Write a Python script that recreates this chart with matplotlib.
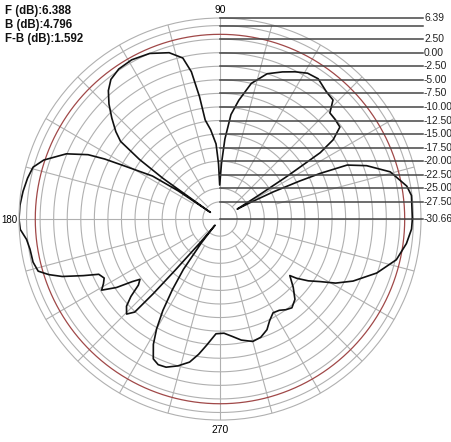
import numpy as np
import matplotlib
matplotlib.use('Agg')
import matplotlib.pyplot as plt

plt.rcParams['font.family'] = ['Liberation Sans', 'DejaVu Sans']

# radiation pattern: angle (deg) and gain (dB)
angles = [0, 7, 10, 15.5, 20, 23, 24.5, 25.5, 27, 28.5,
          30, 31.5, 32.5, 33.5, 35, 37.5, 41, 44, 46.5, 50,
          55, 59, 63, 67, 72, 77, 81, 84, 86.5, 88.5,
          90.5, 91.5, 93, 96, 98.5, 99.5, 101, 103, 107, 113,
          119, 124, 128, 131, 134, 137, 140, 142, 143.5, 144.5,
          145.3, 146, 147.5, 149.5, 151, 152.5, 154, 157, 161.5, 164.5,
          168, 172, 176, 180, 183, 186, 189, 193, 196, 198,
          200, 202.5, 204.5, 207, 209, 211, 213.5, 215.5, 217, 219,
          221, 223, 225.5, 227.5, 228.2, 228.8, 230, 231, 232, 234,
          236, 238, 240, 242, 244.5, 247, 250, 254, 258, 261,
          264, 268, 272, 276, 280, 285, 289, 293, 296, 299.5,
          303, 306, 309, 313, 317, 321, 322.3, 325, 328, 331,
          335, 341, 347, 352.5, 357, 360]
gain_db = [4.8, 4.9, 4.3, 1.9, -1.9, -5.2, -10.4, -14.4, -19.6, -24.2,
           -27.0, -22.4, -15.9, -8.5, -5.2, -2.8, -2.6, -2.5, -0.4, -0.1,
           0.9, 0.7, -0.2, -1.2, -2.5, -5.0, -8.5, -11.3, -15.9, -20.5,
           -24.4, -20.5, -16.8, -14.1, -12.2, -7.8, -3.0, -0.2, 1.4, 2.5,
           2.9, 2.7, 2.0, 0.7, -1.2, -3.4, -5.6, -7.4, -12.2, -17.8,
           -28.5, -21.4, -15.9, -13.2, -10.4, -6.7, -3.6, 0.1, 3.6, 5.1,
           5.6, 6.0, 6.3, 6.39, 6.2, 5.2, 4.8, 4.7, 4.2, 2.5,
           0.3, -3.4, -6.1, -6.7, -6.1, -5.2, -7.8, -10.8, -12.2, -11.3,
           -8.9, -7.1, -6.1, -7.4, -12.2, -18.1, -25.1, -29.2, -25.1, -19.2,
           -15.0, -10.8, -7.3, -4.5, -2.1, -1.5, -1.6, -2.5, -3.7, -5.4,
           -7.3, -9.5, -9.6, -8.9, -8.0, -7.3, -7.6, -8.5, -9.8, -10.8,
           -10.6, -10.0, -9.6, -10.4, -12.2, -14.1, -12.8, -10.8, -8.9, -6.3,
           -3.6, -0.1, 2.7, 4.0, 4.7, 4.8]

r_min, r_max = -30.66, 6.39
f_db, b_db, fb_db = 6.388, 4.796, 1.592

ring_levels = [-27.5, -25.0, -22.5, -20.0, -17.5, -15.0, -12.5, -10.0,
               -7.5, -5.0, -2.5, 0.0, 2.5, 5.0]
level_values = [6.39, 5.0, 2.5, 0.0, -2.5, -5.0, -7.5, -10.0, -12.5, -15.0,
                -17.5, -20.0, -22.5, -25.0, -27.5, -30.66]
level_labels = ['6.39', '', '2.50', '0.00', '-2.50', '-5.00', '-7.50', '-10.00',
                '-12.50', '-15.00', '-17.50', '-20.00', '-22.50', '-25.00',
                '-27.50', '-30.66']
angle_labels = ['90', '180', '270']

grid_c = '#b0b0b0'

fig = plt.figure(figsize=(4.52, 4.42), dpi=100)
fig.patch.set_facecolor('white')
rect = [0.042, 0.0497, 0.8894, 0.9095]

ax = fig.add_axes(rect, projection='polar')
ax.set_ylim(r_min, r_max)
ax.grid(False)
ax.set_xticks([])
ax.set_yticks([])
ax.spines['polar'].set_color(grid_c)
ax.spines['polar'].set_linewidth(0.8)

th = np.linspace(0, 2 * np.pi, 721)
for lv in ring_levels:
    ax.plot(th, np.full_like(th, lv), color=grid_c, lw=0.8)

# spokes, denser further out
for a in range(0, 360, 15):
    if a % 90 == 0:
        start = r_min
    elif a % 45 == 0:
        start = -27.5
    elif a % 30 == 0:
        start = -25.0
    else:
        start = -20.0
    ax.plot([np.radians(a)] * 2, [start, r_max], color=grid_c, lw=0.8)

# -3 dB circle
ax.plot(th, np.full_like(th, f_db - 3), color='#a04848', lw=0.9)

ax.plot(np.radians(angles), gain_db, color='#111111', lw=1.2)

# overlay for the level lines and labels
ax2 = fig.add_axes(rect)
ax2.set_xlim(-1, 1)
ax2.set_ylim(-1, 1)
ax2.axis('off')
ax2.patch.set_alpha(0)
span = r_max - r_min
for v, lab in zip(level_values, level_labels):
    y = (v - r_min) / span
    ax2.plot([0, 1.01], [y, y], color='#454545', lw=1.1, clip_on=False)
    if lab:
        ax2.text(1.015, y, lab, fontsize=7.4, va='center', ha='left',
                 color='#222222', clip_on=False)

ax2.text(0, 1.04, angle_labels[0], fontsize=7.4, ha='center', va='center')
ax2.text(0, -1.05, angle_labels[2], fontsize=7.4, ha='center', va='center')
fig.text(1 / 452, 1 - 220 / 442, angle_labels[1], fontsize=7.0,
         ha='left', va='center')

fig.text(5 / 452, 1 - 5 / 442,
         'F (dB):%.3f\nB (dB):%.3f\nF-B (dB):%.3f' % (f_db, b_db, fb_db),
         fontsize=8.3, fontweight='bold', va='top', ha='left',
         linespacing=1.2, color='#111111')

fig.savefig('out.png', dpi=100, facecolor='white')
